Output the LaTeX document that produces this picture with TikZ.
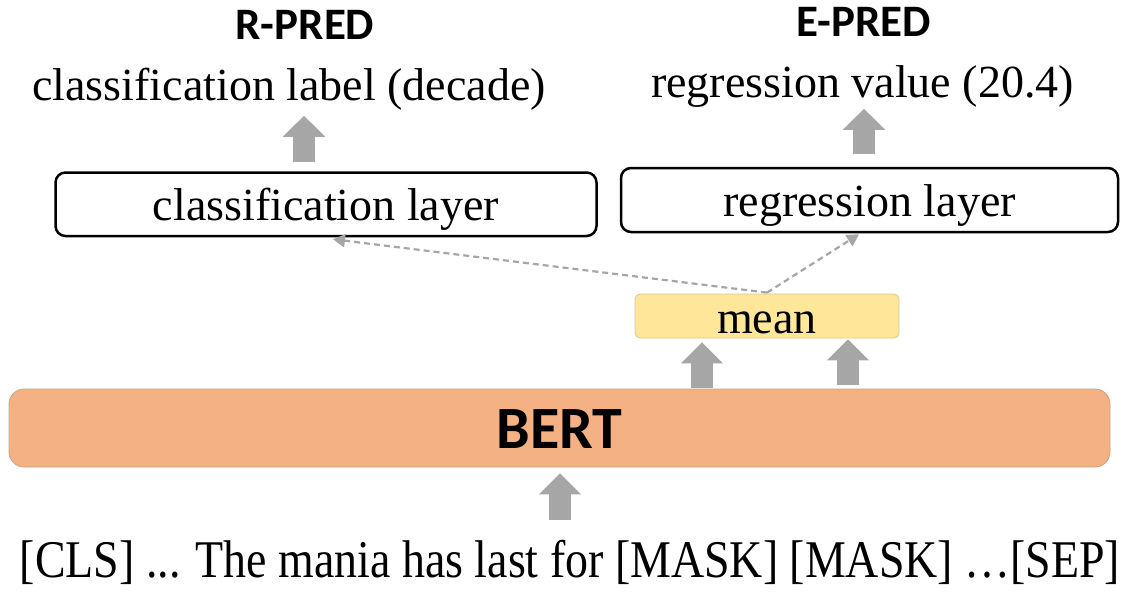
\documentclass[tikz,border=0pt]{standalone}
\usepackage{fontspec}
\setmainfont{Liberation Serif}
\newfontfamily\hdrfont{Carlito}
\newfontfamily\condserif[FakeStretch=0.866]{Liberation Serif}
\usetikzlibrary{arrows.meta}
\definecolor{arrgray}{HTML}{A6A6A6}
\definecolor{meanfill}{HTML}{FFE699}
\definecolor{meanline}{HTML}{D9C690}
\definecolor{bertfill}{HTML}{F4B183}
\definecolor{bertline}{HTML}{C8A48C}
\tikzset{
  hdr/.style={font=\hdrfont\bfseries\fontsize{45}{50}\selectfont, anchor=base, inner sep=0pt},
  serif/.style={font=\fontsize{46}{50}\selectfont, anchor=base, inner sep=0pt},
  layerbox/.style={draw=black, line width=2.5pt, rounded corners=10pt, inner sep=0pt,
    font=\fontsize{46}{50}\selectfont, text height=33pt, text depth=0pt},
  meanbox/.style={draw=meanline, fill=meanfill, line width=0.8pt, rounded corners=5pt, inner sep=0pt,
    font=\fontsize{46}{50}\selectfont, text height=34pt, text depth=0pt},
  bertbox/.style={draw=bertline, fill=bertfill, line width=0.8pt, rounded corners=15pt, inner sep=0pt,
    font=\hdrfont\bfseries\fontsize{60}{64}\selectfont, text height=40pt, text depth=0pt},
  blk/.style={arrgray, line width=22pt, -{Triangle[length=21pt,width=41pt]}},
  dashconn/.style={arrgray, line width=2.2pt, dash pattern=on 6pt off 4pt, -{Triangle[length=12pt,width=13pt]}},
}
\begin{document}
\begin{tikzpicture}[x=1pt,y=-1pt]
\useasboundingbox (0,0) rectangle (1128,592);
% headers
\node[hdr] (rpred) at (305,39) {R-PRED};
\node[hdr] (epred) at (864,36) {E-PRED};
% output labels
\node[serif] (lab1) at (289,100) {classification label (decade)};
\node[serif] (lab2) at (862.5,97) {regression value (20.4)};
% layers
\node[layerbox, minimum width=541pt, minimum height=63.5pt] (cl) at (326,204.25) {classification layer};
\node[layerbox, minimum width=497pt, minimum height=64pt] (reg) at (869.5,200) {regression layer};
% mean
\node[meanbox, minimum width=264pt, minimum height=44pt] (mean) at (767,316) {mean};
% BERT
\node[bertbox, minimum width=1101pt, minimum height=78pt] (bert) at (559.5,428) {BERT};
% input text
\node[anchor=base, inner sep=0pt, font=\condserif\fontsize{53}{58}\selectfont] (inp) at (570,577)
  {[CLS] ... The mania has last for [MASK] [MASK] …[SEP]};
% block arrows
\draw[blk] ([xshift=-22pt,yshift=9.5pt]cl.north) -- ([xshift=-22pt,yshift=55.5pt]cl.north);
\draw[blk] ([xshift=-5.5pt,yshift=13pt]reg.north) -- ([xshift=-5.5pt,yshift=58pt]reg.north);
\draw[blk] ([xshift=-65pt,yshift=-50pt]mean.south) -- ([xshift=-65pt,yshift=-4pt]mean.south);
\draw[blk] ([xshift=81pt,yshift=-47pt]mean.south) -- ([xshift=81pt,yshift=-1pt]mean.south);
\draw[blk] ([xshift=0.5pt,yshift=-53pt]bert.south) -- ([xshift=0.5pt,yshift=-6pt]bert.south);
% dashed connectors
\draw[dashconn] ([yshift=1pt]mean.north) -- ([xshift=7pt,yshift=-2pt]cl.south);
\draw[dashconn] ([yshift=1pt]mean.north) -- ([xshift=-10.5pt,yshift=-1pt]reg.south);
\end{tikzpicture}
\end{document}
